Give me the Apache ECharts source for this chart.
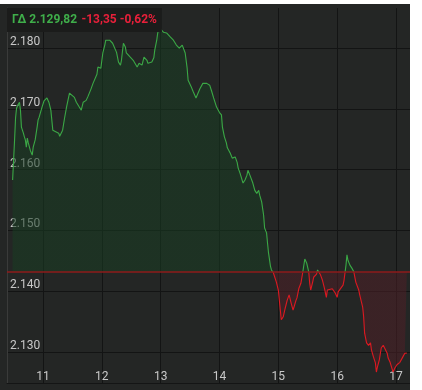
<!DOCTYPE html>
<html><head><meta charset="utf-8">
<script src="https://cdn.jsdelivr.net/npm/echarts@6/dist/echarts.min.js"></script>
<style>
html,body{margin:0;padding:0;background:#ffffff;width:422px;height:390px;overflow:hidden}
#c{position:absolute;left:0;top:4px;width:410px;height:386px}
</style>
</head><body><div id="c"></div>
<script>
// ---- data ----
const indexName = 'ΓΔ';
const lastValueText = '2.129,82';
const changeText = '-13,35';
const changePctText = '-0,62%';
const prevClose = 2143.17;

const times = [
'10:29','10:30','10:31','10:32','10:33','10:34','10:36','10:37','10:38','10:40',
'10:41','10:42','10:43','10:44','10:45','10:47','10:49','10:50','10:52','10:54',
'10:55','10:56','10:59','11:01','11:02','11:04','11:06','11:08','11:10','11:12',
'11:16','11:17','11:20','11:21','11:22','11:24','11:27','11:29','11:32','11:34',
'11:37','11:39','11:41','11:44','11:46','11:49','11:51','11:55','11:56','11:59',
'12:01','12:03','12:04','12:06','12:08','12:10','12:11','12:15','12:17','12:19',
'12:20','12:22','12:24','12:25','12:29','12:32','12:36','12:38','12:41','12:43',
'12:46','12:47','12:51','12:53','12:54','12:56','12:57','12:59','13:00','13:03',
'13:06','13:08','13:10','13:13','13:16','13:19','13:22','13:24','13:25','13:27',
'13:28','13:31','13:33','13:36','13:38','13:40','13:43','13:47','13:50','13:52',
'13:54','13:57','14:00','14:02','14:03','14:05','14:07','14:08','14:11','14:13',
'14:16','14:18','14:19','14:21','14:24','14:26','14:28','14:29','14:31','14:34',
'14:36','14:38','14:40','14:41','14:43','14:45','14:46','14:48','14:49','14:50',
'14:52','14:53','14:55','14:56','14:58','15:00','15:02','15:03','15:05','15:07',
'15:09','15:11','15:13','15:15','15:16','15:18','15:19','15:21','15:23','15:25',
'15:27','15:29','15:31','15:32','15:33','15:35','15:36','15:39','15:40','15:42',
'15:43','15:45','15:47','15:49','15:50','15:52','15:55','15:56','15:58','16:00',
'16:01','16:03','16:06','16:07','16:09','16:10','16:11','16:13','16:15','16:17',
'16:19','16:22','16:23','16:26','16:27','16:28','16:30','16:31','16:32','16:34',
'16:35','16:37','16:39','16:40','16:41','16:43','16:45','16:47','16:49','16:51',
'16:52','16:54','16:57','16:59','17:01','17:04','17:07','17:09','17:11'
];
const values = [
2158.3,2161.6,2164.9,2168.5,2170.1,2170.5,2171.1,2169.8,2167.0,2166.0,
2165.4,2164.9,2163.7,2165.2,2164.4,2163.2,2162.4,2163.7,2164.9,2167.0,
2168.2,2168.6,2170.3,2171.3,2171.4,2171.8,2171.1,2169.8,2166.5,2166.2,
2166.0,2165.5,2166.5,2166.8,2168.5,2170.3,2172.6,2172.6,2171.9,2171.1,
2170.3,2169.8,2171.1,2171.4,2172.1,2173.3,2174.2,2175.7,2176.9,2176.7,
2179.2,2180.5,2181.3,2181.6,2181.3,2181.0,2180.8,2179.3,2177.7,2177.2,
2178.0,2180.8,2180.2,2179.2,2178.5,2178.0,2176.9,2177.5,2177.2,2178.5,
2178.0,2177.5,2177.7,2178.4,2179.7,2181.3,2182.5,2183.3,2183.5,2182.6,
2182.5,2182.6,2181.8,2181.3,2180.5,2180.0,2180.5,2180.3,2179.2,2176.7,
2174.7,2173.7,2172.9,2171.8,2171.6,2173.3,2174.2,2174.2,2173.9,2172.9,
2171.8,2170.3,2169.4,2169.0,2167.0,2165.4,2164.4,2163.6,2162.7,2161.9,
2162.1,2161.2,2160.3,2159.4,2157.8,2158.3,2159.1,2159.9,2159.1,2157.8,
2156.6,2156.1,2156.6,2155.8,2154.7,2152.5,2150.4,2149.6,2147.9,2146.3,
2144.1,2143.5,2143.0,2142.7,2141.5,2140.2,2136.9,2135.3,2135.8,2137.2,
2138.5,2139.4,2138.1,2136.9,2137.4,2138.5,2138.9,2140.5,2141.3,2143.2,
2145.3,2144.6,2143.2,2141.3,2140.2,2141.5,2142.3,2142.8,2143.5,2143.8,
2142.7,2141.8,2140.5,2139.0,2140.2,2139.9,2140.4,2140.2,2139.7,2139.0,
2139.9,2140.2,2141.0,2141.8,2144.3,2146.0,2145.1,2144.3,2143.8,2143.2,
2141.5,2140.2,2139.4,2137.4,2135.8,2133.1,2131.5,2131.6,2131.1,2131.5,
2130.3,2129.2,2128.2,2126.7,2127.5,2128.7,2130.7,2131.1,2131.1,2129.8,
2129.0,2128.3,2126.7,2127.4,2127.9,2128.3,2129.2,2129.8,2129.82
];
const xTickHours = [11, 12, 13, 14, 15, 16, 17];
const xTickLabels = ['11', '12', '13', '14', '15', '16', '17'];
const yTickValues = [2130, 2140, 2150, 2160, 2170, 2180];
const yTickLabels = ['2.130', '2.140', '2.150', '2.160', '2.170', '2.180'];

// ---- chart ----
const GREEN = '#3aa845', RED = '#dc1820';
const toHours = s => { const p = s.split(':'); return +p[0] + (+p[1]) / 60; };
const seriesData = times.map((t, i) => [toHours(t), values[i]]);
const labelFor = (v, ticks, labels) => {
  const i = ticks.findIndex(t => Math.abs(t - v) < 1e-6);
  return i >= 0 ? labels[i] : '';
};
const pieceSet = (lowColor, highColor) => [
  { gte: 2000, lt: prevClose, color: lowColor },
  { gte: prevClose, lte: 2400, color: highColor }
];

const chart = echarts.init(document.getElementById('c'), null, { renderer: 'canvas' });
chart.setOption({
  animation: false,
  backgroundColor: '#242625',
  textStyle: { fontFamily: 'Roboto' },
  title: {
    left: 7, top: 4,
    padding: [3, 5, 3, 5],
    backgroundColor: '#1b1c1b',
    text: '{g|' + indexName + ' ' + lastValueText + '} {r|' + changeText + ' ' + changePctText + '}',
    textStyle: {
      rich: {
        g: { color: '#3fae4a', fontSize: 12, fontFamily: 'Roboto' },
        r: { color: '#e8203a', fontSize: 12, fontFamily: 'Roboto' }
      }
    }
  },
  grid: { left: 7, right: 0, top: 4, bottom: 7 },
  xAxis: {
    type: 'value',
    min: 10.388, max: 17.238,
    axisLine: { show: true, lineStyle: { color: '#141515', width: 1 } },
    axisTick: { show: false, customValues: xTickHours },
    axisLabel: {
      inside: true, margin: 0, color: '#c8c8c8', fontSize: 12, fontFamily: 'Roboto',
      customValues: xTickHours,
      formatter: v => labelFor(v, xTickHours, xTickLabels)
    },
    splitLine: { show: true, lineStyle: { color: '#131414', width: 1 } }
  },
  yAxis: {
    type: 'value',
    min: 2124.9, max: 2186.6,
    axisLine: { show: true, lineStyle: { color: '#3a3b3a', width: 1 } },
    axisTick: { show: false, customValues: yTickValues },
    axisLabel: {
      inside: true, margin: 3, color: '#c8c8c8', fontSize: 12, fontFamily: 'Roboto',
      verticalAlign: 'bottom',
      customValues: yTickValues,
      formatter: v => labelFor(v, yTickValues, yTickLabels)
    },
    splitLine: { show: true, lineStyle: { color: '#131414', width: 1 } }
  },
  visualMap: [
    {
      type: 'piecewise', show: false, dimension: 1, seriesIndex: 0,
      pieces: pieceSet('#4d1f26', '#183c22'), outOfRange: { color: '#183c22' }
    },
    {
      type: 'piecewise', show: false, dimension: 1, seriesIndex: 1,
      pieces: pieceSet(RED, GREEN), outOfRange: { color: GREEN }
    }
  ],
  series: [
    {
      type: 'line', data: seriesData, showSymbol: false, silent: true,
      lineStyle: { width: 0 },
      areaStyle: { origin: prevClose, opacity: 0.55 },
      z: 1
    },
    {
      type: 'line', data: seriesData, showSymbol: false, silent: true,
      lineStyle: { width: 1.1 },
      z: 3,
      markLine: {
        silent: true, symbol: 'none',
        label: { show: false },
        lineStyle: { color: '#8e1b1b', width: 1.5, type: 'solid' },
        data: [{ yAxis: prevClose }]
      }
    }
  ]
});
</script>
</body></html>
